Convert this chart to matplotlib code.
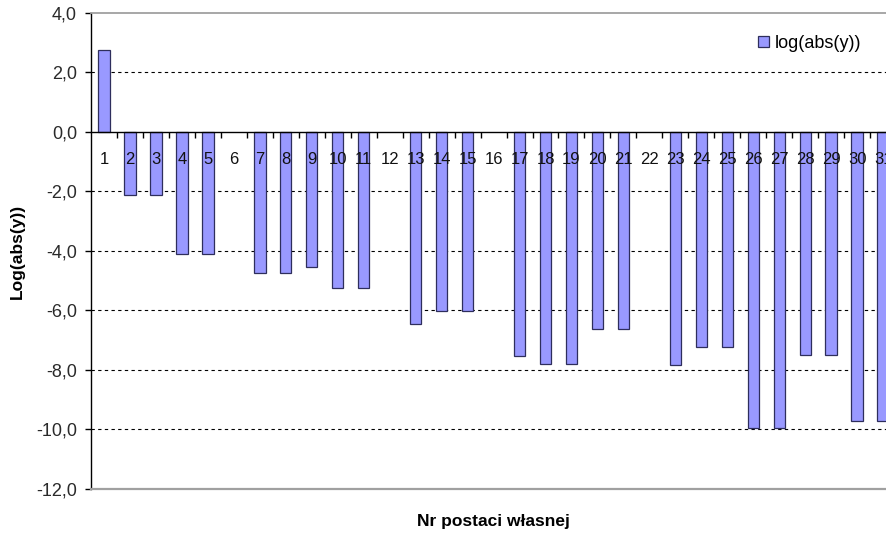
import numpy as np
import matplotlib
matplotlib.use("Agg")
import matplotlib.pyplot as plt
from matplotlib.patches import Patch

plt.rcParams['font.family'] = ['Liberation Sans', 'DejaVu Sans']

# numer postaci własnej i wartości log(abs(y)); brak słupka = NaN
nr = np.arange(1, 32)
log_abs_y = [2.75, -2.12, -2.12, -4.10, -4.10, np.nan, -4.74, -4.74, -4.53, -5.24,
             -5.24, np.nan, -6.47, -6.02, -6.02, np.nan, -7.52, -7.80, -7.80, -6.64,
             -6.64, np.nan, -7.84, -7.22, -7.22, -9.94, -9.94, -7.51, -7.51, -9.70,
             -9.70]
y_ticks = [-12, -10, -8, -6, -4, -2, 0, 2, 4]
y_tick_labels = ["-12,0", "-10,0", "-8,0", "-6,0", "-4,0", "-2,0", "0,0", "2,0", "4,0"]
grid_at = [-10, -8, -6, -4, -2, 2]

fig = plt.figure(figsize=(8.86, 5.34), dpi=100)
ax = fig.add_axes([0.1027, 0.0843, 1.0 - 0.1027, 0.9762 - 0.0843])

ax.bar(nr, log_abs_y, width=0.44, color='#9999ff', edgecolor='#2e2e5c',
       linewidth=0.9, zorder=1)

# przerywane linie siatki
ax.hlines(grid_at, 0.5, 32, colors='black', linestyles=(0, (3, 3)),
          linewidth=0.8, zorder=0.5)

ax.set_xlim(0.5, 31.11)
ax.set_ylim(-12, 4)

# oś X przechodzi przez zero
ax.spines['bottom'].set_position(('data', 0))
ax.spines['bottom'].set_color('black')
ax.spines['bottom'].set_linewidth(1.0)
ax.spines['left'].set_color('black')
ax.spines['left'].set_linewidth(1.0)
ax.spines['top'].set_color('#a0a0a0')
ax.spines['top'].set_linewidth(1.3)
ax.spines['right'].set_visible(False)
ax.axhline(-12, color='#a0a0a0', linewidth=1.6, clip_on=False, zorder=3)

ax.set_xticks(nr)
ax.set_xticklabels([str(n) for n in nr])
ax.set_xticks(np.arange(1.5, 31.5, 1.0), minor=True)
ax.tick_params(axis='x', which='major', length=0, pad=14.5, labelsize=12,
               labelcolor='#111111')
ax.tick_params(axis='x', which='minor', direction='out', length=4, width=1,
               color='black')

ax.set_yticks(y_ticks)
ax.set_yticklabels(y_tick_labels)
ax.tick_params(axis='y', direction='out', length=4, width=1, color='black',
               labelsize=13, labelcolor='#2a2a2a', pad=6)

fig.text(0.020, 0.53, "Log(abs(y))", rotation=90, fontsize=12.5, fontweight='bold',
         ha='center', va='center')
fig.text(0.557, 0.023, "Nr postaci własnej", fontsize=12.5, fontweight='bold',
         ha='center', va='center')

handle = Patch(facecolor='#9999ff', edgecolor='#2e2e5c', linewidth=0.9)
fig.legend([handle], ["log(abs(y))"], loc='center left',
           bbox_to_anchor=(0.856, 0.919), frameon=False, fontsize=13,
           handlelength=0.6, handleheight=0.6, handletextpad=0.3,
           borderpad=0, borderaxespad=0)

fig.savefig("out.png", dpi=100)
